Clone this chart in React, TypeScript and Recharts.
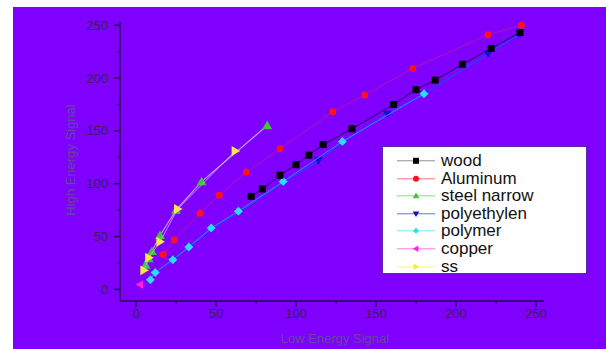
import React from 'react';
import { ScatterChart, Scatter, XAxis, YAxis } from 'recharts';

const seriesNames = ['wood', 'Aluminum', 'steel narrow', 'polyethylen', 'polymer', 'copper', 'ss'];

const woodX = [72, 79, 90, 100, 108, 117, 135, 161, 175, 187, 204, 222, 240];
const woodY = [88, 95, 108, 118, 127, 137, 152, 175, 189, 198, 213, 228, 243];

const aluminumX = [17, 24, 40, 52, 69, 90, 123, 143, 173, 220, 241];
const aluminumY = [33, 47, 72, 89, 111, 133, 168, 184, 209, 241, 250];

const steelX = [6, 8, 10, 15, 25, 41, 82];
const steelY = [23, 29, 36, 51, 75, 102, 155];

const polyethylenX = [9, 12, 23, 33, 47, 64, 92, 114, 129, 157, 180, 220, 240];
const polyethylenY = [9, 16, 28, 40, 57, 73, 101, 122, 139, 166, 185, 223, 242];

const polymerX = [9, 12, 23, 33, 47, 64, 92, 129, 180];
const polymerY = [9, 16, 28, 40, 58, 74, 102, 140, 185];

const copperX = [2.5];
const copperY = [4.5];

const ssX = [5, 8, 15, 26, 62];
const ssY = [18, 30, 45, 76, 131];

const xTicks = [0, 25, 50, 75, 100, 125, 150, 175, 200, 225, 250];
const yTicks = [0, 25, 50, 75, 100, 125, 150, 175, 200, 225, 250];

const toPoints = (xs: number[], ys: number[]) => xs.map((x, i) => ({ x, y: ys[i] }));

const BG = '#7f00ff';
const AXIS = '#2a0a55';
const TICK_TEXT = '#33244f';
const TITLE = '#6548a0';
const FONT = '"Liberation Sans", Arial, sans-serif';

type Kind = 'square' | 'circle' | 'up' | 'down' | 'diamond' | 'left' | 'right';

const series = [
  { name: seriesNames[0], data: toPoints(woodX, woodY), color: '#000000', line: '#1a0040', lw: 1, op: 0.9, kind: 'square' as Kind, size: 7 },
  { name: seriesNames[1], data: toPoints(aluminumX, aluminumY), color: '#ff1020', line: '#e0207a', lw: 1, op: 0.55, kind: 'circle' as Kind, size: 7 },
  { name: seriesNames[2], data: toPoints(steelX, steelY), color: '#3fc43a', line: '#c2a6ee', lw: 1.2, op: 0.9, kind: 'up' as Kind, size: 9 },
  { name: seriesNames[3], data: toPoints(polyethylenX, polyethylenY), color: '#1010d0', line: '#2a3cff', lw: 1.6, op: 1, kind: 'down' as Kind, size: 8 },
  { name: seriesNames[4], data: toPoints(polymerX, polymerY), color: '#30d8ff', line: '#3a8cff', lw: 1, op: 0.9, kind: 'diamond' as Kind, size: 9 },
  { name: seriesNames[5], data: toPoints(copperX, copperY), color: '#ff20e0', line: '#ff20e0', lw: 1, op: 0.8, kind: 'left' as Kind, size: 8 },
  { name: seriesNames[6], data: toPoints(ssX, ssY), color: '#ffe840', line: '#d8b0d8', lw: 1, op: 0.8, kind: 'right' as Kind, size: 9 },
];

const drawOrder = [3, 4, 0, 1, 2, 6, 5];

function Marker({ kind, cx, cy, color, s }: { kind: Kind; cx: number; cy: number; color: string; s: number }) {
  const h = s / 2;
  switch (kind) {
    case 'square':
      return <rect x={cx - h} y={cy - h} width={s} height={s} fill={color} />;
    case 'circle':
      return <circle cx={cx} cy={cy} r={h} fill={color} />;
    case 'up':
      return <polygon points={`${cx},${cy - h * 1.1} ${cx - h * 1.1},${cy + h * 0.8} ${cx + h * 1.1},${cy + h * 0.8}`} fill={color} />;
    case 'down':
      return <polygon points={`${cx},${cy + h * 1.1} ${cx - h * 1.1},${cy - h * 0.8} ${cx + h * 1.1},${cy - h * 0.8}`} fill={color} />;
    case 'diamond':
      return <polygon points={`${cx},${cy - h} ${cx + h},${cy} ${cx},${cy + h} ${cx - h},${cy}`} fill={color} />;
    case 'left':
      return <polygon points={`${cx - h * 1.1},${cy} ${cx + h * 0.8},${cy - h * 1.1} ${cx + h * 0.8},${cy + h * 1.1}`} fill={color} />;
    case 'right':
      return <polygon points={`${cx + h * 1.1},${cy} ${cx - h * 0.8},${cy - h * 1.1} ${cx - h * 0.8},${cy + h * 1.1}`} fill={color} />;
  }
  return null;
}

const XTick = (props: any) => {
  const { x, y, payload } = props;
  const major = payload.value % 50 === 0;
  return (
    <g>
      <line x1={x} x2={x} y1={y} y2={y + (major ? 6 : 3)} stroke={AXIS} strokeWidth={1.5} />
      {major && (
        <text x={x} y={y + 8} dy="0.71em" textAnchor="middle" fontSize={13} fontFamily={FONT} fill={TICK_TEXT}>
          {payload.value}
        </text>
      )}
    </g>
  );
};

const YTick = (props: any) => {
  const { x, y, payload } = props;
  const major = payload.value % 50 === 0;
  return (
    <g>
      <line x1={x - (major ? 6 : 3)} x2={x} y1={y} y2={y} stroke={AXIS} strokeWidth={1.5} />
      {major && (
        <text x={x - 12} y={y} dy="0.35em" textAnchor="end" fontSize={13} fontFamily={FONT} fill={TICK_TEXT}>
          {payload.value}
        </text>
      )}
    </g>
  );
};

export default function App() {
  return (
    <div style={{ position: 'absolute', left: 13, top: 7, width: 593, height: 342, background: BG, overflow: 'hidden' }}>
      <ScatterChart width={593} height={342} margin={{ top: 15, right: 62, bottom: 0, left: 0 }}>
        <XAxis
          type="number"
          dataKey="x"
          domain={[-10, 255]}
          ticks={xTicks}
          interval={0}
          allowDataOverflow
          height={48}
          tickSize={0}
          tickMargin={0}
          tickLine={false}
          tick={<XTick />}
          axisLine={{ stroke: AXIS, strokeWidth: 1.5 }}
          label={{
            content: () => (
              <text x={322} y={331} dy="0.35em" textAnchor="middle" fontSize={13} fontFamily={FONT} fill={TITLE}>
                Low Energy Signal
              </text>
            ),
          }}
        />
        <YAxis
          type="number"
          dataKey="y"
          domain={[-11, 253]}
          ticks={yTicks}
          interval={0}
          allowDataOverflow
          width={107}
          tickSize={0}
          tickMargin={0}
          tickLine={false}
          tick={<YTick />}
          axisLine={{ stroke: AXIS, strokeWidth: 1.5 }}
          label={{
            content: () => (
              <text
                x={57}
                y={153}
                dy="0.35em"
                transform="rotate(-90 57 153)"
                textAnchor="middle"
                fontSize={13}
                fontFamily={FONT}
                fill={TITLE}
              >
                High Energy Signal
              </text>
            ),
          }}
        />
        {drawOrder.map((i) => {
          const s = series[i];
          return (
            <Scatter
              key={s.name}
              name={s.name}
              data={s.data}
              isAnimationActive={false}
              line={{ stroke: s.line, strokeWidth: s.lw, strokeOpacity: s.op }}
              shape={(p: any) => <Marker kind={s.kind} cx={p.cx} cy={p.cy} color={s.color} s={s.size} />}
            />
          );
        })}
      </ScatterChart>
      <div
        style={{
          position: 'absolute',
          left: 369,
          top: 139,
          width: 205,
          height: 128,
          background: '#ffffff',
          border: '1px solid #5a2aa0',
          boxSizing: 'border-box',
          paddingTop: 5,
        }}
      >
        {series.map((s) => (
          <div key={s.name} style={{ display: 'flex', alignItems: 'center', height: 17.6 }}>
            <svg width={58} height={17.6} style={{ display: 'block', flex: 'none' }}>
              <line x1={14} x2={52} y1={8.8} y2={8.8} stroke={s.color === '#000000' ? '#444' : s.color} strokeWidth={1} opacity={0.6} />
              <Marker kind={s.kind} cx={33} cy={8.8} color={s.color} s={6} />
            </svg>
            <span style={{ fontFamily: FONT, fontSize: 17, color: '#111', lineHeight: '17.6px', whiteSpace: 'nowrap' }}>
              {s.name}
            </span>
          </div>
        ))}
      </div>
    </div>
  );
}
